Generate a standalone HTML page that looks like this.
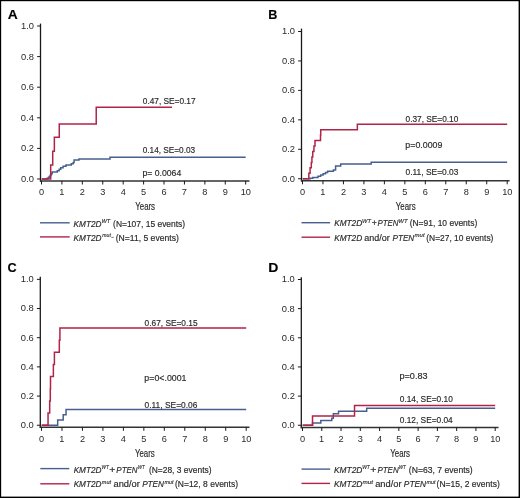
<!DOCTYPE html>
<html><head><meta charset="utf-8"><style>
html,body{margin:0;padding:0;background:#fff;}
svg{display:block;font-family:"Liberation Sans", sans-serif;will-change:transform;}
text{stroke:#2a2a2a;stroke-width:0.18px;}
text.tk{stroke:none;}
text.sp{stroke-width:0.14px;}
</style></head><body>
<svg width="520" height="498" viewBox="0 0 520 498">
<rect x="0" y="0" width="520" height="498" fill="#fff"/>
<text x="7.65" y="18.6" font-size="13.2" textLength="10.01" lengthAdjust="spacingAndGlyphs" font-weight="bold" fill="#000">A</text>
<line x1="40.5" y1="23.6" x2="40.5" y2="181.70000000000002" stroke="#1a1a1a" stroke-width="1.3"/>
<line x1="37.1" y1="179.0" x2="40.5" y2="179.0" stroke="#1a1a1a" stroke-width="1.0"/>
<text x="20.96" y="182" font-size="9.5" textLength="13.01" lengthAdjust="spacingAndGlyphs" class="tk" fill="#2a2a2a">0.0</text>
<line x1="37.1" y1="148.4" x2="40.5" y2="148.4" stroke="#1a1a1a" stroke-width="1.0"/>
<text x="21.06" y="151" font-size="9.5" textLength="13.01" lengthAdjust="spacingAndGlyphs" class="tk" fill="#2a2a2a">0.2</text>
<line x1="37.1" y1="117.8" x2="40.5" y2="117.8" stroke="#1a1a1a" stroke-width="1.0"/>
<text x="20.87" y="121" font-size="9.5" textLength="13.01" lengthAdjust="spacingAndGlyphs" class="tk" fill="#2a2a2a">0.4</text>
<line x1="37.1" y1="87.2" x2="40.5" y2="87.2" stroke="#1a1a1a" stroke-width="1.0"/>
<text x="21.0" y="90" font-size="9.5" textLength="13.01" lengthAdjust="spacingAndGlyphs" class="tk" fill="#2a2a2a">0.6</text>
<line x1="37.1" y1="56.6" x2="40.5" y2="56.6" stroke="#1a1a1a" stroke-width="1.0"/>
<text x="21.0" y="60" font-size="9.5" textLength="13.01" lengthAdjust="spacingAndGlyphs" class="tk" fill="#2a2a2a">0.8</text>
<line x1="37.1" y1="26.0" x2="40.5" y2="26.0" stroke="#1a1a1a" stroke-width="1.0"/>
<text x="20.96" y="29" font-size="9.5" textLength="13.01" lengthAdjust="spacingAndGlyphs" class="tk" fill="#2a2a2a">1.0</text>
<line x1="39.9" y1="180.9" x2="249.5" y2="180.9" stroke="#333" stroke-width="1.5"/>
<line x1="41.5" y1="180.9" x2="41.5" y2="184.5" stroke="#1a1a1a" stroke-width="1.0"/>
<text x="38.94" y="195.3" font-size="9.5" textLength="5.12" lengthAdjust="spacingAndGlyphs" class="tk" fill="#2a2a2a">0</text>
<line x1="61.92" y1="180.9" x2="61.92" y2="184.5" stroke="#1a1a1a" stroke-width="1.0"/>
<text x="59.23" y="195.3" font-size="9.5" textLength="5.12" lengthAdjust="spacingAndGlyphs" class="tk" fill="#2a2a2a">1</text>
<line x1="82.34" y1="180.9" x2="82.34" y2="184.5" stroke="#1a1a1a" stroke-width="1.0"/>
<text x="79.78" y="195.3" font-size="9.5" textLength="5.12" lengthAdjust="spacingAndGlyphs" class="tk" fill="#2a2a2a">2</text>
<line x1="102.76" y1="180.9" x2="102.76" y2="184.5" stroke="#1a1a1a" stroke-width="1.0"/>
<text x="100.22" y="195.3" font-size="9.5" textLength="5.12" lengthAdjust="spacingAndGlyphs" class="tk" fill="#2a2a2a">3</text>
<line x1="123.18" y1="180.9" x2="123.18" y2="184.5" stroke="#1a1a1a" stroke-width="1.0"/>
<text x="120.65" y="195.3" font-size="9.5" textLength="5.12" lengthAdjust="spacingAndGlyphs" class="tk" fill="#2a2a2a">4</text>
<line x1="143.6" y1="180.9" x2="143.6" y2="184.5" stroke="#1a1a1a" stroke-width="1.0"/>
<text x="141.05" y="195.3" font-size="9.5" textLength="5.12" lengthAdjust="spacingAndGlyphs" class="tk" fill="#2a2a2a">5</text>
<line x1="164.02" y1="180.9" x2="164.02" y2="184.5" stroke="#1a1a1a" stroke-width="1.0"/>
<text x="161.43" y="195.3" font-size="9.5" textLength="5.12" lengthAdjust="spacingAndGlyphs" class="tk" fill="#2a2a2a">6</text>
<line x1="184.44" y1="180.9" x2="184.44" y2="184.5" stroke="#1a1a1a" stroke-width="1.0"/>
<text x="181.87" y="195.3" font-size="9.5" textLength="5.12" lengthAdjust="spacingAndGlyphs" class="tk" fill="#2a2a2a">7</text>
<line x1="204.86" y1="180.9" x2="204.86" y2="184.5" stroke="#1a1a1a" stroke-width="1.0"/>
<text x="202.3" y="195.3" font-size="9.5" textLength="5.12" lengthAdjust="spacingAndGlyphs" class="tk" fill="#2a2a2a">8</text>
<line x1="225.28" y1="180.9" x2="225.28" y2="184.5" stroke="#1a1a1a" stroke-width="1.0"/>
<text x="222.72" y="195.3" font-size="9.5" textLength="5.12" lengthAdjust="spacingAndGlyphs" class="tk" fill="#2a2a2a">9</text>
<line x1="245.7" y1="180.9" x2="245.7" y2="184.5" stroke="#1a1a1a" stroke-width="1.0"/>
<text x="240.7" y="195.3" font-size="9.5" textLength="10.25" lengthAdjust="spacingAndGlyphs" class="tk" fill="#2a2a2a">10</text>
<text x="135.23" y="210.1" font-size="10.6" textLength="19.84" lengthAdjust="spacingAndGlyphs" fill="#2a2a2a">Years</text>
<path d="M41.7,179 H47.2 V178.3 H48.5 V177.3 H49.5 V176.2 H50.5 V174.8 H51.5 V173.5 H52.2 V171.9 H57.3 V170.7 H59.2 V169.2 H60.7 V167.8 H63.1 V166.3 H66.0 V164.9 H71.3 V163.75 H73.2 V162.5 H74.1 V160.1 H79.0 V158.9 H110 V157.3 H245.7" fill="none" stroke="#475f8e" stroke-width="1.5"/>
<path d="M41.7,179 H50.69 V165.09 H52.73 V151.18 H54.36 V137.27 H59.27 V124.07 H96.23 V107.24 H171.98" fill="none" stroke="#b22348" stroke-width="1.5"/>
<text x="142.78" y="104.2" font-size="9.5" textLength="52.84" lengthAdjust="spacingAndGlyphs" fill="#2a2a2a">0.47, SE=0.17</text>
<text x="142.68" y="153.1" font-size="9.5" textLength="52.48" lengthAdjust="spacingAndGlyphs" fill="#2a2a2a">0.14, SE=0.03</text>
<text x="142.44" y="176.2" font-size="9.5" textLength="38.81" lengthAdjust="spacingAndGlyphs" fill="#2a2a2a">p= 0.0064</text>
<line x1="40" y1="222.8" x2="69.7" y2="222.8" stroke="#475f8e" stroke-width="1.4"/>
<text x="73.55" y="226.6" font-size="9.5" textLength="27.92" lengthAdjust="spacingAndGlyphs" font-style="italic" fill="#2a2a2a">KMT2D</text>
<text x="101.51" y="222.8" font-size="5.4" textLength="8.75" lengthAdjust="spacingAndGlyphs" class="sp" font-style="italic" fill="#2a2a2a">WT</text>
<text x="113.08" y="226.6" font-size="9.5" textLength="72.05" lengthAdjust="spacingAndGlyphs" fill="#2a2a2a">(N=107, 15 events)</text>
<line x1="40" y1="236.9" x2="69.7" y2="236.9" stroke="#b22348" stroke-width="1.4"/>
<text x="73.55" y="241.0" font-size="9.5" textLength="27.92" lengthAdjust="spacingAndGlyphs" font-style="italic" fill="#2a2a2a">KMT2D</text>
<text x="102.32" y="237.2" font-size="5.4" textLength="8.51" lengthAdjust="spacingAndGlyphs" class="sp" font-style="italic" fill="#2a2a2a">mut</text>
<text x="115.67" y="241.0" font-size="9.5" textLength="63.16" lengthAdjust="spacingAndGlyphs" fill="#2a2a2a">(N=11, 5 events)</text>
<text x="268.16" y="18.6" font-size="13.2" textLength="9.12" lengthAdjust="spacingAndGlyphs" font-weight="bold" fill="#000">B</text>
<line x1="301.5" y1="28.6" x2="301.5" y2="181.5" stroke="#1a1a1a" stroke-width="1.3"/>
<line x1="298.1" y1="178.75" x2="301.5" y2="178.75" stroke="#1a1a1a" stroke-width="1.0"/>
<text x="281.96" y="182" font-size="9.5" textLength="13.01" lengthAdjust="spacingAndGlyphs" class="tk" fill="#2a2a2a">0.0</text>
<line x1="298.1" y1="149.3" x2="301.5" y2="149.3" stroke="#1a1a1a" stroke-width="1.0"/>
<text x="282.06" y="152" font-size="9.5" textLength="13.01" lengthAdjust="spacingAndGlyphs" class="tk" fill="#2a2a2a">0.2</text>
<line x1="298.1" y1="119.85" x2="301.5" y2="119.85" stroke="#1a1a1a" stroke-width="1.0"/>
<text x="281.87" y="123" font-size="9.5" textLength="13.01" lengthAdjust="spacingAndGlyphs" class="tk" fill="#2a2a2a">0.4</text>
<line x1="298.1" y1="90.4" x2="301.5" y2="90.4" stroke="#1a1a1a" stroke-width="1.0"/>
<text x="282.0" y="93" font-size="9.5" textLength="13.01" lengthAdjust="spacingAndGlyphs" class="tk" fill="#2a2a2a">0.6</text>
<line x1="298.1" y1="60.95" x2="301.5" y2="60.95" stroke="#1a1a1a" stroke-width="1.0"/>
<text x="282.0" y="64" font-size="9.5" textLength="13.01" lengthAdjust="spacingAndGlyphs" class="tk" fill="#2a2a2a">0.8</text>
<line x1="298.1" y1="31.5" x2="301.5" y2="31.5" stroke="#1a1a1a" stroke-width="1.0"/>
<text x="281.96" y="34" font-size="9.5" textLength="13.01" lengthAdjust="spacingAndGlyphs" class="tk" fill="#2a2a2a">1.0</text>
<line x1="300.9" y1="180.7" x2="509.6" y2="180.7" stroke="#333" stroke-width="1.5"/>
<line x1="302.5" y1="180.7" x2="302.5" y2="184.29999999999998" stroke="#1a1a1a" stroke-width="1.0"/>
<text x="299.94" y="195.2" font-size="9.5" textLength="5.12" lengthAdjust="spacingAndGlyphs" class="tk" fill="#2a2a2a">0</text>
<line x1="322.97" y1="180.7" x2="322.97" y2="184.29999999999998" stroke="#1a1a1a" stroke-width="1.0"/>
<text x="320.28" y="195.2" font-size="9.5" textLength="5.12" lengthAdjust="spacingAndGlyphs" class="tk" fill="#2a2a2a">1</text>
<line x1="343.44" y1="180.7" x2="343.44" y2="184.29999999999998" stroke="#1a1a1a" stroke-width="1.0"/>
<text x="340.88" y="195.2" font-size="9.5" textLength="5.12" lengthAdjust="spacingAndGlyphs" class="tk" fill="#2a2a2a">2</text>
<line x1="363.91" y1="180.7" x2="363.91" y2="184.29999999999998" stroke="#1a1a1a" stroke-width="1.0"/>
<text x="361.37" y="195.2" font-size="9.5" textLength="5.12" lengthAdjust="spacingAndGlyphs" class="tk" fill="#2a2a2a">3</text>
<line x1="384.38" y1="180.7" x2="384.38" y2="184.29999999999998" stroke="#1a1a1a" stroke-width="1.0"/>
<text x="381.85" y="195.2" font-size="9.5" textLength="5.12" lengthAdjust="spacingAndGlyphs" class="tk" fill="#2a2a2a">4</text>
<line x1="404.85" y1="180.7" x2="404.85" y2="184.29999999999998" stroke="#1a1a1a" stroke-width="1.0"/>
<text x="402.3" y="195.2" font-size="9.5" textLength="5.12" lengthAdjust="spacingAndGlyphs" class="tk" fill="#2a2a2a">5</text>
<line x1="425.32" y1="180.7" x2="425.32" y2="184.29999999999998" stroke="#1a1a1a" stroke-width="1.0"/>
<text x="422.73" y="195.2" font-size="9.5" textLength="5.12" lengthAdjust="spacingAndGlyphs" class="tk" fill="#2a2a2a">6</text>
<line x1="445.79" y1="180.7" x2="445.79" y2="184.29999999999998" stroke="#1a1a1a" stroke-width="1.0"/>
<text x="443.22" y="195.2" font-size="9.5" textLength="5.12" lengthAdjust="spacingAndGlyphs" class="tk" fill="#2a2a2a">7</text>
<line x1="466.26" y1="180.7" x2="466.26" y2="184.29999999999998" stroke="#1a1a1a" stroke-width="1.0"/>
<text x="463.7" y="195.2" font-size="9.5" textLength="5.12" lengthAdjust="spacingAndGlyphs" class="tk" fill="#2a2a2a">8</text>
<line x1="486.73" y1="180.7" x2="486.73" y2="184.29999999999998" stroke="#1a1a1a" stroke-width="1.0"/>
<text x="484.17" y="195.2" font-size="9.5" textLength="5.12" lengthAdjust="spacingAndGlyphs" class="tk" fill="#2a2a2a">9</text>
<line x1="507.2" y1="180.7" x2="507.2" y2="184.29999999999998" stroke="#1a1a1a" stroke-width="1.0"/>
<text x="502.2" y="195.2" font-size="9.5" textLength="10.25" lengthAdjust="spacingAndGlyphs" class="tk" fill="#2a2a2a">10</text>
<text x="395.83" y="210.4" font-size="10.6" textLength="19.84" lengthAdjust="spacingAndGlyphs" fill="#2a2a2a">Years</text>
<path d="M302.7,178.75 H310.1 V178.2 H312.8 V177.5 H318.0 V176.3 H320.7 V175.0 H323.1 V173.7 H325.5 V172.5 H327.6 V171.3 H333.4 V169.9 H335.6 V166.0 H340.7 V164.1 H371.2 V162.3 H507.2" fill="none" stroke="#475f8e" stroke-width="1.5"/>
<path d="M302.7,178.75 H308.85 V173.3 H310.07 V167.84 H311.3 V162.39 H311.92 V156.94 H312.74 V151.48 H313.96 V146.03 H314.99 V140.57 H320.51 V135.16 H320.72 V129.72 H357.36 V124.27 H507.2" fill="none" stroke="#b22348" stroke-width="1.5"/>
<text x="405.58" y="121.7" font-size="9.5" textLength="52.75" lengthAdjust="spacingAndGlyphs" fill="#2a2a2a">0.37, SE=0.10</text>
<text x="405.33" y="148.1" font-size="9.5" textLength="37.09" lengthAdjust="spacingAndGlyphs" fill="#2a2a2a">p=0.0009</text>
<text x="405.58" y="175.0" font-size="9.5" textLength="52.79" lengthAdjust="spacingAndGlyphs" fill="#2a2a2a">0.11, SE=0.03</text>
<line x1="301.5" y1="222.7" x2="330.1" y2="222.7" stroke="#475f8e" stroke-width="1.4"/>
<text x="334.15" y="226.4" font-size="9.5" textLength="28.02" lengthAdjust="spacingAndGlyphs" font-style="italic" fill="#2a2a2a">KMT2D</text>
<text x="362.11" y="222.6" font-size="5.4" textLength="8.86" lengthAdjust="spacingAndGlyphs" class="sp" font-style="italic" fill="#2a2a2a">WT</text>
<text x="371.87" y="226.4" font-size="9.5" textLength="5.17" lengthAdjust="spacingAndGlyphs" fill="#2a2a2a">+</text>
<text x="377.46" y="226.4" font-size="9.5" textLength="20.84" lengthAdjust="spacingAndGlyphs" font-style="italic" fill="#2a2a2a">PTEN</text>
<text x="398.28" y="222.6" font-size="5.4" textLength="9.36" lengthAdjust="spacingAndGlyphs" class="sp" font-style="italic" fill="#2a2a2a">WT</text>
<text x="409.67" y="226.4" font-size="9.5" textLength="67.55" lengthAdjust="spacingAndGlyphs" fill="#2a2a2a">(N=91, 10 events)</text>
<line x1="301.5" y1="237.2" x2="330.1" y2="237.2" stroke="#b22348" stroke-width="1.4"/>
<text x="334.15" y="240.8" font-size="9.5" textLength="28.02" lengthAdjust="spacingAndGlyphs" font-style="italic" fill="#2a2a2a">KMT2D</text>
<text x="364.32" y="240.8" font-size="9.5" textLength="25.43" lengthAdjust="spacingAndGlyphs" fill="#2a2a2a">and/or</text>
<text x="392.55" y="240.8" font-size="9.5" textLength="21.65" lengthAdjust="spacingAndGlyphs" font-style="italic" fill="#2a2a2a">PTEN</text>
<text x="414.6" y="237.0" font-size="5.4" textLength="9.99" lengthAdjust="spacingAndGlyphs" class="sp" font-style="italic" fill="#2a2a2a">mut</text>
<text x="426.28" y="240.8" font-size="9.5" textLength="67.14" lengthAdjust="spacingAndGlyphs" fill="#2a2a2a">(N=27, 10 events)</text>
<text x="7.58" y="271.5" font-size="13.2" textLength="9.17" lengthAdjust="spacingAndGlyphs" font-weight="bold" fill="#000">C</text>
<line x1="40.3" y1="276.8" x2="40.3" y2="428.0" stroke="#1a1a1a" stroke-width="1.3"/>
<line x1="36.9" y1="425.25" x2="40.3" y2="425.25" stroke="#1a1a1a" stroke-width="1.0"/>
<text x="20.76" y="428" font-size="9.5" textLength="13.01" lengthAdjust="spacingAndGlyphs" class="tk" fill="#2a2a2a">0.0</text>
<line x1="36.9" y1="396.07" x2="40.3" y2="396.07" stroke="#1a1a1a" stroke-width="1.0"/>
<text x="20.86" y="399" font-size="9.5" textLength="13.01" lengthAdjust="spacingAndGlyphs" class="tk" fill="#2a2a2a">0.2</text>
<line x1="36.9" y1="366.89" x2="40.3" y2="366.89" stroke="#1a1a1a" stroke-width="1.0"/>
<text x="20.67" y="370" font-size="9.5" textLength="13.01" lengthAdjust="spacingAndGlyphs" class="tk" fill="#2a2a2a">0.4</text>
<line x1="36.9" y1="337.71" x2="40.3" y2="337.71" stroke="#1a1a1a" stroke-width="1.0"/>
<text x="20.8" y="341" font-size="9.5" textLength="13.01" lengthAdjust="spacingAndGlyphs" class="tk" fill="#2a2a2a">0.6</text>
<line x1="36.9" y1="308.53" x2="40.3" y2="308.53" stroke="#1a1a1a" stroke-width="1.0"/>
<text x="20.8" y="311" font-size="9.5" textLength="13.01" lengthAdjust="spacingAndGlyphs" class="tk" fill="#2a2a2a">0.8</text>
<line x1="36.9" y1="279.35" x2="40.3" y2="279.35" stroke="#1a1a1a" stroke-width="1.0"/>
<text x="20.76" y="282" font-size="9.5" textLength="13.01" lengthAdjust="spacingAndGlyphs" class="tk" fill="#2a2a2a">1.0</text>
<line x1="39.699999999999996" y1="427.2" x2="249.5" y2="427.2" stroke="#333" stroke-width="1.5"/>
<line x1="41.5" y1="427.2" x2="41.5" y2="430.8" stroke="#1a1a1a" stroke-width="1.0"/>
<text x="38.94" y="441.6" font-size="9.5" textLength="5.12" lengthAdjust="spacingAndGlyphs" class="tk" fill="#2a2a2a">0</text>
<line x1="61.97" y1="427.2" x2="61.97" y2="430.8" stroke="#1a1a1a" stroke-width="1.0"/>
<text x="59.28" y="441.6" font-size="9.5" textLength="5.12" lengthAdjust="spacingAndGlyphs" class="tk" fill="#2a2a2a">1</text>
<line x1="82.44" y1="427.2" x2="82.44" y2="430.8" stroke="#1a1a1a" stroke-width="1.0"/>
<text x="79.88" y="441.6" font-size="9.5" textLength="5.12" lengthAdjust="spacingAndGlyphs" class="tk" fill="#2a2a2a">2</text>
<line x1="102.91" y1="427.2" x2="102.91" y2="430.8" stroke="#1a1a1a" stroke-width="1.0"/>
<text x="100.37" y="441.6" font-size="9.5" textLength="5.12" lengthAdjust="spacingAndGlyphs" class="tk" fill="#2a2a2a">3</text>
<line x1="123.38" y1="427.2" x2="123.38" y2="430.8" stroke="#1a1a1a" stroke-width="1.0"/>
<text x="120.85" y="441.6" font-size="9.5" textLength="5.12" lengthAdjust="spacingAndGlyphs" class="tk" fill="#2a2a2a">4</text>
<line x1="143.85" y1="427.2" x2="143.85" y2="430.8" stroke="#1a1a1a" stroke-width="1.0"/>
<text x="141.3" y="441.6" font-size="9.5" textLength="5.12" lengthAdjust="spacingAndGlyphs" class="tk" fill="#2a2a2a">5</text>
<line x1="164.32" y1="427.2" x2="164.32" y2="430.8" stroke="#1a1a1a" stroke-width="1.0"/>
<text x="161.73" y="441.6" font-size="9.5" textLength="5.12" lengthAdjust="spacingAndGlyphs" class="tk" fill="#2a2a2a">6</text>
<line x1="184.79" y1="427.2" x2="184.79" y2="430.8" stroke="#1a1a1a" stroke-width="1.0"/>
<text x="182.22" y="441.6" font-size="9.5" textLength="5.12" lengthAdjust="spacingAndGlyphs" class="tk" fill="#2a2a2a">7</text>
<line x1="205.26" y1="427.2" x2="205.26" y2="430.8" stroke="#1a1a1a" stroke-width="1.0"/>
<text x="202.7" y="441.6" font-size="9.5" textLength="5.12" lengthAdjust="spacingAndGlyphs" class="tk" fill="#2a2a2a">8</text>
<line x1="225.73" y1="427.2" x2="225.73" y2="430.8" stroke="#1a1a1a" stroke-width="1.0"/>
<text x="223.17" y="441.6" font-size="9.5" textLength="5.12" lengthAdjust="spacingAndGlyphs" class="tk" fill="#2a2a2a">9</text>
<line x1="246.2" y1="427.2" x2="246.2" y2="430.8" stroke="#1a1a1a" stroke-width="1.0"/>
<text x="241.2" y="441.6" font-size="9.5" textLength="10.25" lengthAdjust="spacingAndGlyphs" class="tk" fill="#2a2a2a">10</text>
<text x="134.93" y="457.0" font-size="10.6" textLength="19.84" lengthAdjust="spacingAndGlyphs" fill="#2a2a2a">Years</text>
<path d="M41.7,425.25 H57.67 V420.04 H63.2 V414.83 H66.06 V409.62 H246.2" fill="none" stroke="#475f8e" stroke-width="1.5"/>
<path d="M41.7,425.25 H48.05 V413.09 H49.69 V400.93 H50.3 V388.77 H50.51 V376.62 H53.37 V364.46 H54.4 V352.3 H59.31 V340.14 H59.92 V327.98 H246.2" fill="none" stroke="#b22348" stroke-width="1.5"/>
<text x="144.57" y="325.6" font-size="9.5" textLength="52.97" lengthAdjust="spacingAndGlyphs" fill="#2a2a2a">0.67, SE=0.15</text>
<text x="144.33" y="381.0" font-size="9.5" textLength="42.2" lengthAdjust="spacingAndGlyphs" fill="#2a2a2a">p=0&lt;.0001</text>
<text x="144.58" y="408.1" font-size="9.5" textLength="52.79" lengthAdjust="spacingAndGlyphs" fill="#2a2a2a">0.11, SE=0.06</text>
<line x1="40.3" y1="468.6" x2="69.3" y2="468.6" stroke="#475f8e" stroke-width="1.4"/>
<text x="73.65" y="472.7" font-size="9.5" textLength="27.82" lengthAdjust="spacingAndGlyphs" font-style="italic" fill="#2a2a2a">KMT2D</text>
<text x="101.5" y="468.9" font-size="5.4" textLength="7.23" lengthAdjust="spacingAndGlyphs" class="sp" font-style="italic" fill="#2a2a2a">WT</text>
<text x="109.29" y="472.7" font-size="9.5" textLength="6.13" lengthAdjust="spacingAndGlyphs" fill="#2a2a2a">+</text>
<text x="116.35" y="472.7" font-size="9.5" textLength="21.24" lengthAdjust="spacingAndGlyphs" font-style="italic" fill="#2a2a2a">PTEN</text>
<text x="137.71" y="468.9" font-size="5.4" textLength="7.02" lengthAdjust="spacingAndGlyphs" class="sp" font-style="italic" fill="#2a2a2a">WT</text>
<text x="148.88" y="472.7" font-size="9.5" textLength="62.65" lengthAdjust="spacingAndGlyphs" fill="#2a2a2a">(N=28, 3 events)</text>
<line x1="40.3" y1="483.8" x2="69.3" y2="483.8" stroke="#b22348" stroke-width="1.4"/>
<text x="73.65" y="487.3" font-size="9.5" textLength="27.82" lengthAdjust="spacingAndGlyphs" font-style="italic" fill="#2a2a2a">KMT2D</text>
<text x="101.81" y="483.5" font-size="5.4" textLength="9.2" lengthAdjust="spacingAndGlyphs" class="sp" font-style="italic" fill="#2a2a2a">mut</text>
<text x="113.51" y="487.3" font-size="9.5" textLength="26.35" lengthAdjust="spacingAndGlyphs" fill="#2a2a2a">and/or</text>
<text x="142.15" y="487.3" font-size="9.5" textLength="21.85" lengthAdjust="spacingAndGlyphs" font-style="italic" fill="#2a2a2a">PTEN</text>
<text x="164.41" y="483.5" font-size="5.4" textLength="9.0" lengthAdjust="spacingAndGlyphs" class="sp" font-style="italic" fill="#2a2a2a">mut</text>
<text x="174.97" y="487.3" font-size="9.5" textLength="63.05" lengthAdjust="spacingAndGlyphs" fill="#2a2a2a">(N=12, 8 events)</text>
<text x="268.16" y="271.6" font-size="13.2" textLength="10.13" lengthAdjust="spacingAndGlyphs" font-weight="bold" fill="#000">D</text>
<line x1="301.3" y1="277.3" x2="301.3" y2="428.2" stroke="#1a1a1a" stroke-width="1.3"/>
<line x1="297.90000000000003" y1="425.25" x2="301.3" y2="425.25" stroke="#1a1a1a" stroke-width="1.0"/>
<text x="281.76" y="428" font-size="9.5" textLength="13.01" lengthAdjust="spacingAndGlyphs" class="tk" fill="#2a2a2a">0.0</text>
<line x1="297.90000000000003" y1="396.1" x2="301.3" y2="396.1" stroke="#1a1a1a" stroke-width="1.0"/>
<text x="281.86" y="399" font-size="9.5" textLength="13.01" lengthAdjust="spacingAndGlyphs" class="tk" fill="#2a2a2a">0.2</text>
<line x1="297.90000000000003" y1="366.95" x2="301.3" y2="366.95" stroke="#1a1a1a" stroke-width="1.0"/>
<text x="281.67" y="370" font-size="9.5" textLength="13.01" lengthAdjust="spacingAndGlyphs" class="tk" fill="#2a2a2a">0.4</text>
<line x1="297.90000000000003" y1="337.8" x2="301.3" y2="337.8" stroke="#1a1a1a" stroke-width="1.0"/>
<text x="281.8" y="341" font-size="9.5" textLength="13.01" lengthAdjust="spacingAndGlyphs" class="tk" fill="#2a2a2a">0.6</text>
<line x1="297.90000000000003" y1="308.65" x2="301.3" y2="308.65" stroke="#1a1a1a" stroke-width="1.0"/>
<text x="281.8" y="312" font-size="9.5" textLength="13.01" lengthAdjust="spacingAndGlyphs" class="tk" fill="#2a2a2a">0.8</text>
<line x1="297.90000000000003" y1="279.5" x2="301.3" y2="279.5" stroke="#1a1a1a" stroke-width="1.0"/>
<text x="281.76" y="282" font-size="9.5" textLength="13.01" lengthAdjust="spacingAndGlyphs" class="tk" fill="#2a2a2a">1.0</text>
<line x1="300.7" y1="427.4" x2="498.5" y2="427.4" stroke="#333" stroke-width="1.5"/>
<line x1="302.5" y1="427.4" x2="302.5" y2="431.0" stroke="#1a1a1a" stroke-width="1.0"/>
<text x="299.94" y="441.6" font-size="9.5" textLength="5.12" lengthAdjust="spacingAndGlyphs" class="tk" fill="#2a2a2a">0</text>
<line x1="321.77" y1="427.4" x2="321.77" y2="431.0" stroke="#1a1a1a" stroke-width="1.0"/>
<text x="319.08" y="441.6" font-size="9.5" textLength="5.12" lengthAdjust="spacingAndGlyphs" class="tk" fill="#2a2a2a">1</text>
<line x1="341.04" y1="427.4" x2="341.04" y2="431.0" stroke="#1a1a1a" stroke-width="1.0"/>
<text x="338.48" y="441.6" font-size="9.5" textLength="5.12" lengthAdjust="spacingAndGlyphs" class="tk" fill="#2a2a2a">2</text>
<line x1="360.31" y1="427.4" x2="360.31" y2="431.0" stroke="#1a1a1a" stroke-width="1.0"/>
<text x="357.77" y="441.6" font-size="9.5" textLength="5.12" lengthAdjust="spacingAndGlyphs" class="tk" fill="#2a2a2a">3</text>
<line x1="379.58" y1="427.4" x2="379.58" y2="431.0" stroke="#1a1a1a" stroke-width="1.0"/>
<text x="377.05" y="441.6" font-size="9.5" textLength="5.12" lengthAdjust="spacingAndGlyphs" class="tk" fill="#2a2a2a">4</text>
<line x1="398.85" y1="427.4" x2="398.85" y2="431.0" stroke="#1a1a1a" stroke-width="1.0"/>
<text x="396.3" y="441.6" font-size="9.5" textLength="5.12" lengthAdjust="spacingAndGlyphs" class="tk" fill="#2a2a2a">5</text>
<line x1="418.12" y1="427.4" x2="418.12" y2="431.0" stroke="#1a1a1a" stroke-width="1.0"/>
<text x="415.53" y="441.6" font-size="9.5" textLength="5.12" lengthAdjust="spacingAndGlyphs" class="tk" fill="#2a2a2a">6</text>
<line x1="437.39" y1="427.4" x2="437.39" y2="431.0" stroke="#1a1a1a" stroke-width="1.0"/>
<text x="434.82" y="441.6" font-size="9.5" textLength="5.12" lengthAdjust="spacingAndGlyphs" class="tk" fill="#2a2a2a">7</text>
<line x1="456.66" y1="427.4" x2="456.66" y2="431.0" stroke="#1a1a1a" stroke-width="1.0"/>
<text x="454.1" y="441.6" font-size="9.5" textLength="5.12" lengthAdjust="spacingAndGlyphs" class="tk" fill="#2a2a2a">8</text>
<line x1="475.93" y1="427.4" x2="475.93" y2="431.0" stroke="#1a1a1a" stroke-width="1.0"/>
<text x="473.37" y="441.6" font-size="9.5" textLength="5.12" lengthAdjust="spacingAndGlyphs" class="tk" fill="#2a2a2a">9</text>
<line x1="495.2" y1="427.4" x2="495.2" y2="431.0" stroke="#1a1a1a" stroke-width="1.0"/>
<text x="490.2" y="441.6" font-size="9.5" textLength="10.25" lengthAdjust="spacingAndGlyphs" class="tk" fill="#2a2a2a">10</text>
<text x="390.23" y="456.59999999999997" font-size="10.6" textLength="19.84" lengthAdjust="spacingAndGlyphs" fill="#2a2a2a">Years</text>
<path d="M302.7,425.25 H312.52 V422.94 H320.81 V420.62 H331.79 V418.31 H333.33 V413.68 H338.53 V411.37 H366.67 V408.2 H495.2" fill="none" stroke="#475f8e" stroke-width="1.5"/>
<path d="M302.7,425.25 H312.52 V415.92 H354.53 V405.57 H495.2" fill="none" stroke="#b22348" stroke-width="1.5"/>
<text x="399.52" y="379.4" font-size="9.5" textLength="27.98" lengthAdjust="spacingAndGlyphs" fill="#2a2a2a">p=0.83</text>
<text x="399.77" y="401.9" font-size="9.5" textLength="53.05" lengthAdjust="spacingAndGlyphs" fill="#2a2a2a">0.14, SE=0.10</text>
<text x="399.77" y="423.1" font-size="9.5" textLength="52.97" lengthAdjust="spacingAndGlyphs" fill="#2a2a2a">0.12, SE=0.04</text>
<line x1="301.5" y1="469.1" x2="330.1" y2="469.1" stroke="#475f8e" stroke-width="1.4"/>
<text x="334.04" y="472.7" font-size="9.5" textLength="28.33" lengthAdjust="spacingAndGlyphs" font-style="italic" fill="#2a2a2a">KMT2D</text>
<text x="362.18" y="468.9" font-size="5.4" textLength="7.63" lengthAdjust="spacingAndGlyphs" class="sp" font-style="italic" fill="#2a2a2a">WT</text>
<text x="370.29" y="472.7" font-size="9.5" textLength="6.13" lengthAdjust="spacingAndGlyphs" fill="#2a2a2a">+</text>
<text x="377.45" y="472.7" font-size="9.5" textLength="21.24" lengthAdjust="spacingAndGlyphs" font-style="italic" fill="#2a2a2a">PTEN</text>
<text x="398.7" y="468.9" font-size="5.4" textLength="7.13" lengthAdjust="spacingAndGlyphs" class="sp" font-style="italic" fill="#2a2a2a">WT</text>
<text x="408.87" y="472.7" font-size="9.5" textLength="63.87" lengthAdjust="spacingAndGlyphs" fill="#2a2a2a">(N=63, 7 events)</text>
<line x1="301.5" y1="483.4" x2="330.1" y2="483.4" stroke="#b22348" stroke-width="1.4"/>
<text x="334.04" y="487.3" font-size="9.5" textLength="28.33" lengthAdjust="spacingAndGlyphs" font-style="italic" fill="#2a2a2a">KMT2D</text>
<text x="362.49" y="483.5" font-size="5.4" textLength="10.59" lengthAdjust="spacingAndGlyphs" class="sp" font-style="italic" fill="#2a2a2a">mut</text>
<text x="375.21" y="487.3" font-size="9.5" textLength="26.35" lengthAdjust="spacingAndGlyphs" fill="#2a2a2a">and/or</text>
<text x="403.84" y="487.3" font-size="9.5" textLength="22.35" lengthAdjust="spacingAndGlyphs" font-style="italic" fill="#2a2a2a">PTEN</text>
<text x="426.61" y="483.5" font-size="5.4" textLength="8.9" lengthAdjust="spacingAndGlyphs" class="sp" font-style="italic" fill="#2a2a2a">mut</text>
<text x="436.57" y="487.3" font-size="9.5" textLength="63.16" lengthAdjust="spacingAndGlyphs" fill="#2a2a2a">(N=15, 2 events)</text>
<rect x="111.3" y="236.9" width="2.4" height="0.8" fill="#555"/>
<rect x="0" y="0" width="520" height="1.2" fill="#000"/>
<rect x="0" y="0" width="1.15" height="498" fill="#000"/>
<rect x="518.6" y="0" width="1.4" height="498" fill="#000"/>
<rect x="0" y="496.6" width="520" height="1.4" fill="#000"/>
</svg>
</body></html>
